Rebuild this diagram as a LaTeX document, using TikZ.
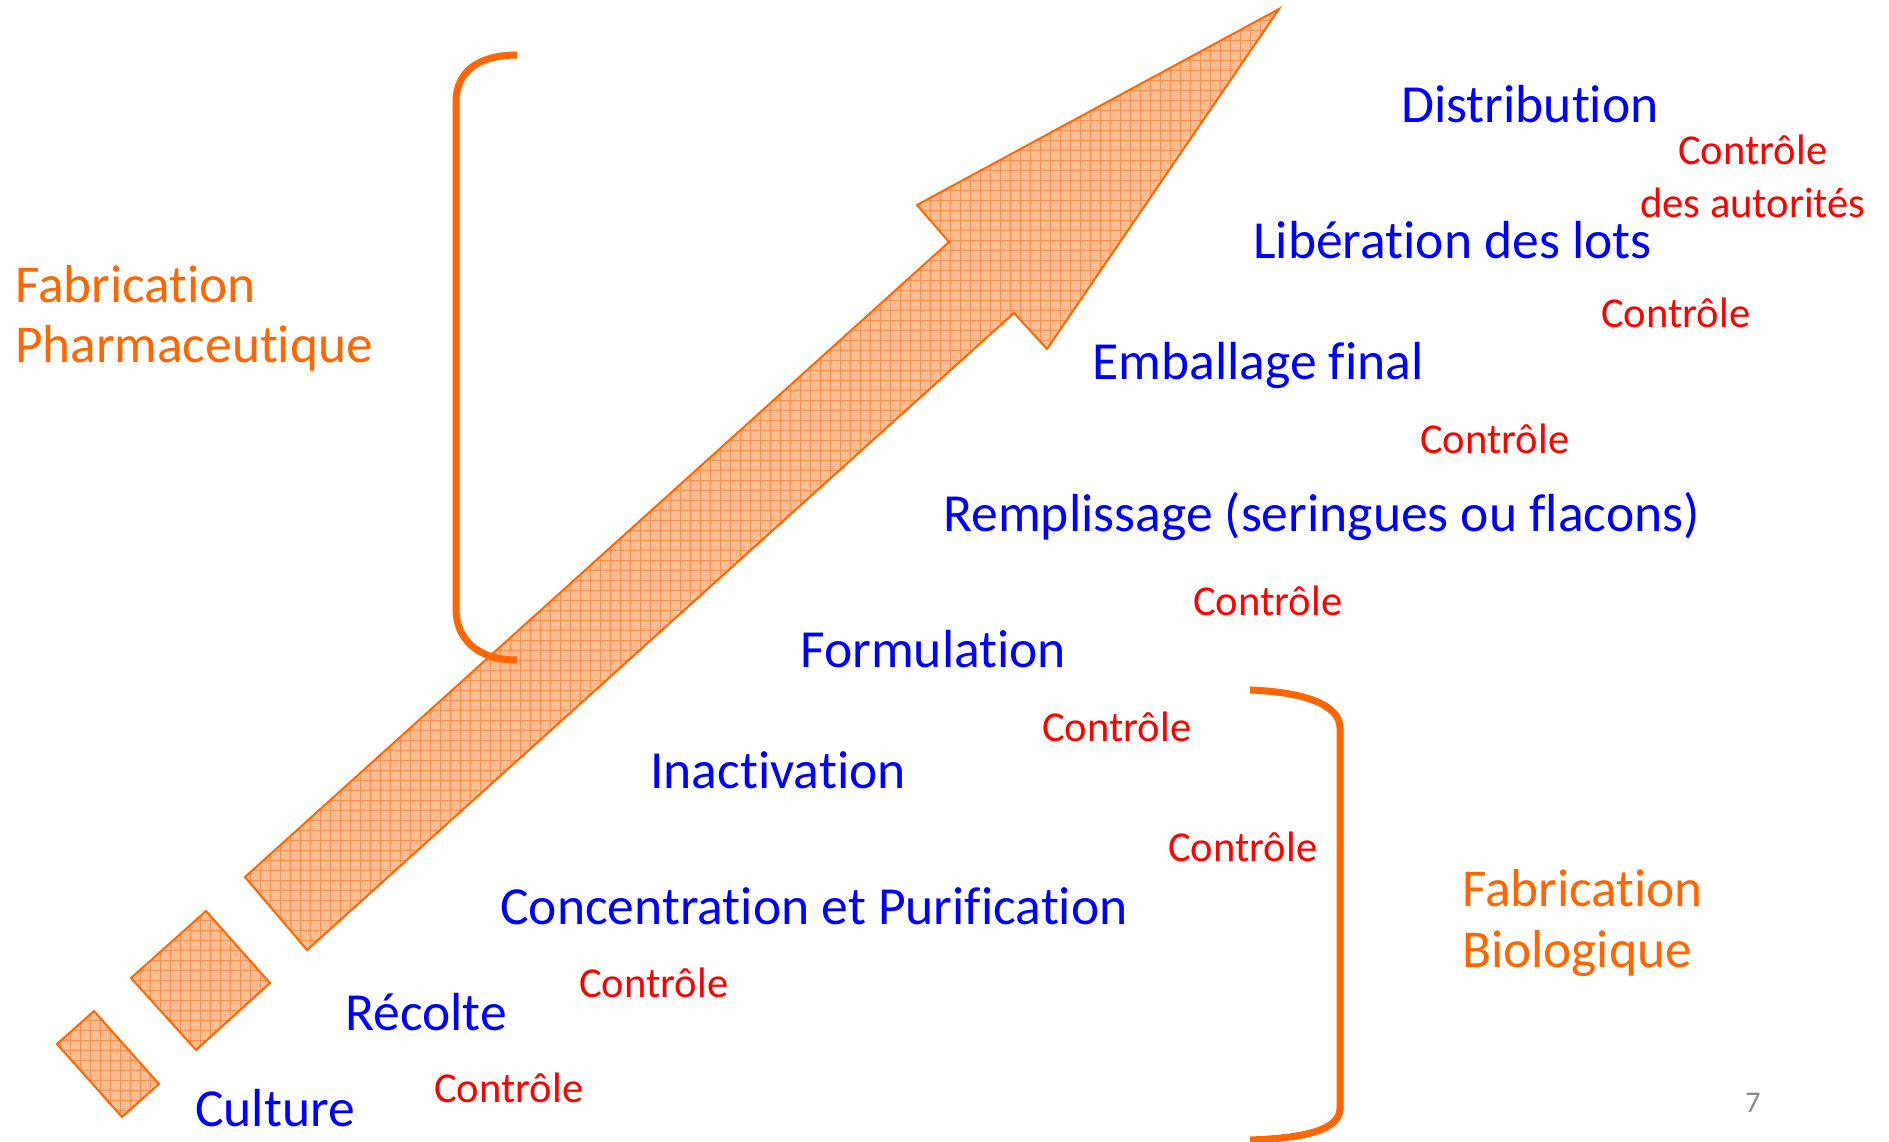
\documentclass[tikz,border=0pt]{standalone}
\usepackage{fontspec}
\setmainfont{Carlito}[Ligatures={NoCommon,NoContextual}]
\definecolor{orng}{RGB}{255,102,0}
\definecolor{fillorng}{RGB}{251,190,148}
\definecolor{gridorng}{RGB}{246,145,80}
\definecolor{txtblue}{RGB}{0,0,255}
\definecolor{txtred}{RGB}{255,0,0}
\definecolor{pgnum}{RGB}{137,137,137}
\begin{document}
\begin{tikzpicture}[x=1pt,y=-1pt,
  stage/.style={anchor=base west, inner sep=0pt, text=txtblue, font=\fontsize{53.6}{60}\selectfont},
  ctrl/.style={anchor=base west, inner sep=0pt, text=txtred, font=\fontsize{42.6}{50}\selectfont},
  phase/.style={anchor=base west, inner sep=0pt, text=orng, font=\fontsize{53.3}{60}\selectfont},
  outline/.style={draw=orng, line width=2pt, line join=miter},
  bracket/.style={draw=orng, line width=7pt}]
\useasboundingbox (0,0) rectangle (1889,1142);
\fill[white] (0,0) rectangle (1889,1142);

% patterned fill of arrow and squares
\begin{scope}
  \clip (1279,9) -- (917,205) -- (949,242) -- (245,877) -- (307,950) -- (1014,313) -- (1047,349) -- cycle
        (206,911) -- (270,983) -- (196,1050) -- (131,978) -- cycle
        (94,1011) -- (159,1084) -- (122,1117) -- (57,1044) -- cycle;
  \fill[fillorng] (0,0) rectangle (1300,1142);
  \foreach \i in {0,10,...,1290} \draw[gridorng, line width=0.8pt] (\i,0) -- (\i,1142);
  \foreach \j in {0,10,...,1140} \draw[gridorng, line width=0.8pt] (0,\j) -- (1300,\j);
\end{scope}
\path[outline] (1279,9) -- (917,205) -- (949,242) -- (245,877) -- (307,950) -- (1014,313) -- (1047,349) -- cycle;
\path[outline] (206,911) -- (270,983) -- (196,1050) -- (131,978) -- cycle;
\path[outline] (94,1011) -- (159,1084) -- (122,1117) -- (57,1044) -- cycle;

% brackets
\path[bracket] (517,55) .. controls (478,55) and (456,72) .. (456,102) -- (456,608) .. controls (456,640) and (478,660) .. (517,660);
\path[bracket] (1250,690) .. controls (1305,692) and (1340,705) .. (1340,728) -- (1340,1108) .. controls (1340,1130) and (1305,1138) .. (1250,1140);

% phase labels
\node[phase] (fab1) at (15,302) {Fabrication};
\node[phase] (fab2) at (15,362) {Pharmaceutique};
\node[phase] (bio1) at (1462,906) {Fabrication};
\node[phase] (bio2) at (1462,967) {Biologique};

% stages
\node[stage] (distr) at (1401,123) {Distribution};
\node[stage] (liber) at (1253,258) {Libération des lots};
\node[stage] (embal) at (1092,379) {Emballage final};
\node[stage] (rempl) at (943,531) {Remplissage (seringues ou flacons)};
\node[stage] (formu) at (800,667) {Formulation};
\node[stage] (inact) at (650,788) {Inactivation};
\node[stage] (conce) at (500,924) {Concentration et Purification};
\node[stage] (recol) at (345,1030) {Récolte};
\node[stage] (cultu) at (195,1126) {Culture};

% controls
\node[ctrl] (c1a) at (1678,165) {Contrôle};
\node[ctrl] (c1b) at (1640,217) {des autorités};
\node[ctrl] (c2) at (1601,327) {Contrôle};
\node[ctrl] (c3) at (1420,453) {Contrôle};
\node[ctrl] (c4) at (1193,615) {Contrôle};
\node[ctrl] (c5) at (1042,741) {Contrôle};
\node[ctrl] (c6) at (1168,861) {Contrôle};
\node[ctrl] (c7) at (579,997) {Contrôle};
\node[ctrl] (c8) at (434,1102) {Contrôle};

% page number
\node[anchor=base, inner sep=0pt, text=pgnum, font=\fontsize{30}{34}\selectfont] (pg) at (1753,1112) {7};
\end{tikzpicture}
\end{document}
